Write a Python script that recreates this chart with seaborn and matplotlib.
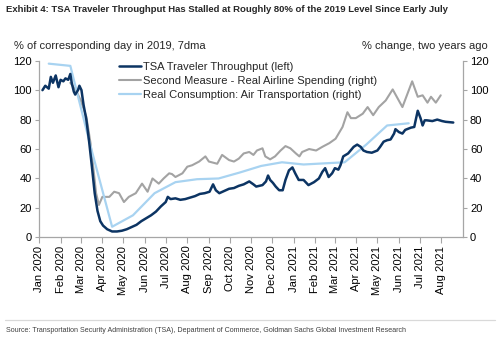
import matplotlib
matplotlib.use("Agg")
import matplotlib.pyplot as plt
import matplotlib.dates as mdates
import pandas as pd
import seaborn as sns

# TSA traveler throughput, % of corresponding day in 2019 (7-day moving average)
tsa_dates = [
    "2020-01-06", "2020-01-10", "2020-01-15", "2020-01-18", "2020-01-21", "2020-01-25",
    "2020-01-29", "2020-02-01", "2020-02-05", "2020-02-08", "2020-02-12", "2020-02-15",
    "2020-02-17", "2020-02-20", "2020-02-22", "2020-02-26", "2020-02-28", "2020-03-02",
    "2020-03-05", "2020-03-09", "2020-03-13", "2020-03-17", "2020-03-21", "2020-03-25",
    "2020-03-29", "2020-04-02", "2020-04-08", "2020-04-15", "2020-04-22", "2020-04-29",
    "2020-05-06", "2020-05-13", "2020-05-20", "2020-05-27", "2020-06-03", "2020-06-10",
    "2020-06-17", "2020-06-24", "2020-07-01", "2020-07-04", "2020-07-08", "2020-07-15",
    "2020-07-22", "2020-07-29", "2020-08-05", "2020-08-12", "2020-08-19", "2020-08-26",
    "2020-09-02", "2020-09-07", "2020-09-11", "2020-09-16", "2020-09-23", "2020-09-30",
    "2020-10-07", "2020-10-14", "2020-10-21", "2020-10-29", "2020-11-04", "2020-11-08",
    "2020-11-17", "2020-11-22", "2020-11-25", "2020-11-28", "2020-12-02", "2020-12-06",
    "2020-12-11", "2020-12-16", "2020-12-20", "2020-12-25", "2020-12-30", "2021-01-03",
    "2021-01-08", "2021-01-15", "2021-01-22", "2021-01-30", "2021-02-06", "2021-02-11",
    "2021-02-15", "2021-02-20", "2021-02-25", "2021-03-01", "2021-03-06", "2021-03-09",
    "2021-03-13", "2021-03-20", "2021-03-28", "2021-04-02", "2021-04-07", "2021-04-11",
    "2021-04-16", "2021-04-23", "2021-05-01", "2021-05-05", "2021-05-10", "2021-05-15",
    "2021-05-20", "2021-05-25", "2021-05-27", "2021-06-01", "2021-06-06", "2021-06-10",
    "2021-06-18", "2021-06-23", "2021-06-25", "2021-06-28", "2021-07-02", "2021-07-05",
    "2021-07-08", "2021-07-11", "2021-07-19", "2021-07-26", "2021-08-02", "2021-08-07",
    "2021-08-18",
]
tsa_values = [
    100, 103, 101, 109, 105, 110,
    102, 107, 106, 108, 107, 111,
    105, 99, 97, 100, 103, 100,
    90, 80, 65, 48, 30, 18,
    11, 8, 5.5, 4, 4, 4.5,
    5.5, 7, 8.5, 11, 13, 15,
    17.5, 21, 24, 27.5, 26, 26.5,
    25.5, 26, 27, 28, 29.5, 30,
    31, 36, 32, 30, 31.5, 33,
    33.5, 35, 36, 38, 36, 34.5,
    35.5, 38, 42, 39, 37, 34.5,
    32, 32, 39, 45.5, 47.5, 43.5,
    39, 39, 35.5, 37.5, 40, 44.5,
    47, 41, 43.5, 47, 46, 49,
    55, 57, 61.5, 63, 61.5, 59,
    58, 57.5, 59, 61.5, 65, 66,
    66.5, 70.5, 73.5, 71.5, 70.5, 73,
    74.5, 75, 79.5, 86, 81, 76,
    79.5, 79.5, 79, 80, 79, 78.5,
    78,
]

# Second Measure real airline spending, % change vs two years ago
sm_dates = [
    "2020-02-15", "2020-02-23", "2020-03-01", "2020-03-09", "2020-03-15", "2020-03-20",
    "2020-03-23", "2020-03-27", "2020-04-01", "2020-04-11", "2020-04-18", "2020-04-25",
    "2020-05-02", "2020-05-09", "2020-05-19", "2020-05-28", "2020-06-05", "2020-06-12",
    "2020-06-21", "2020-06-28", "2020-07-06", "2020-07-10", "2020-07-15", "2020-07-25",
    "2020-08-01", "2020-08-08", "2020-08-18", "2020-08-27", "2020-09-01", "2020-09-13",
    "2020-09-20", "2020-09-30", "2020-10-07", "2020-10-14", "2020-10-21", "2020-10-29",
    "2020-11-04", "2020-11-09", "2020-11-17", "2020-11-21", "2020-11-28", "2020-12-05",
    "2020-12-13", "2020-12-20", "2020-12-27", "2021-01-04", "2021-01-09", "2021-01-13",
    "2021-01-23", "2021-02-02", "2021-02-11", "2021-02-21", "2021-03-02", "2021-03-12",
    "2021-03-19", "2021-03-24", "2021-03-31", "2021-04-10", "2021-04-17", "2021-04-25",
    "2021-05-03", "2021-05-13", "2021-05-23", "2021-06-06", "2021-06-20", "2021-06-28",
    "2021-07-05", "2021-07-12", "2021-07-17", "2021-07-24", "2021-07-31",
]
sm_values = [
    105, 100, 93, 82, 64, 43,
    30, 22, 27.5, 27.5, 31, 30,
    24, 27.5, 30, 36.5, 31, 40,
    36.5, 40, 43.5, 43, 41, 43.5,
    48, 49, 51.5, 55, 51.5, 50,
    56, 52.5, 51.5, 53.5, 57, 58,
    56, 59, 60.5, 55, 53, 55,
    59, 62, 60.5, 57, 55, 58,
    60, 59, 61.5, 64, 67, 75,
    85, 81, 81, 84, 88.5, 83,
    88.5, 93, 100.5, 88.5, 106, 95.5,
    96.5, 91.5, 95.5, 91.5, 96.5,
]

# Real consumption: air transportation, % change vs two years ago (monthly)
pce_dates = [
    "2020-01-15", "2020-02-15", "2020-03-15", "2020-04-15", "2020-05-15", "2020-06-15",
    "2020-07-15", "2020-08-15", "2020-09-15", "2020-10-15", "2020-11-15", "2020-12-15",
    "2021-01-15", "2021-02-15", "2021-03-15", "2021-04-15", "2021-05-15", "2021-06-15",
]
pce_values = [
    118, 116.5, 62, 7.2, 15, 30,
    37.5, 39.5, 40, 44, 48.5, 51,
    49.5, 50.3, 51, 63, 76, 77.5,
]

y_ticks = [0, 20, 40, 60, 80, 100, 120]

title = ("Exhibit 4: TSA Traveler Throughput Has Stalled at Roughly 80% of the 2019 "
         "Level Since Early July")
left_label = "% of corresponding day in 2019, 7dma"
right_label = "% change, two years ago"
source = ("Source: Transportation Security Administration (TSA), Department of Commerce, "
          "Goldman Sachs Global Investment Research")
series_names = ["TSA Traveler Throughput (left)",
                "Second Measure - Real Airline Spending (right)",
                "Real Consumption: Air Transportation (right)"]

NAVY = "#0c3463"
GRAY = "#a3a3a3"
LIGHT = "#a8d3f1"
SPINE = "#a6a6a6"

sns.set_theme(style="white")
plt.rcParams["font.family"] = ["Liberation Sans", "DejaVu Sans"]

tsa = pd.DataFrame({"date": pd.to_datetime(tsa_dates), "value": tsa_values})
sm = pd.DataFrame({"date": pd.to_datetime(sm_dates), "value": sm_values})
pce = pd.DataFrame({"date": pd.to_datetime(pce_dates), "value": pce_values})

fig = plt.figure(figsize=(5.0, 3.43), dpi=100)
ax = fig.add_axes([0.078, 0.308, 0.848, 0.515])
ax2 = ax.twinx()

sns.lineplot(data=sm, x="date", y="value", ax=ax2, color=GRAY, lw=1.5, label=series_names[1])
sns.lineplot(data=pce, x="date", y="value", ax=ax2, color=LIGHT, lw=1.6, label=series_names[2])
sns.lineplot(data=tsa, x="date", y="value", ax=ax, color=NAVY, lw=1.8, label=series_names[0])
ax.set_zorder(ax2.get_zorder() + 1)
ax.patch.set_visible(False)

for a in (ax, ax2):
    a.set_ylim(0, 120)
    a.set_yticks(y_ticks)
    a.set_xlim(pd.Timestamp("2020-01-01"), pd.Timestamp("2021-09-01"))
    a.set_xlabel("")
    a.set_ylabel("")
    for s in a.spines.values():
        s.set_visible(False)
    a.tick_params(axis="both", labelsize=8, colors="black", length=3,
                  width=0.8, pad=2)
    a.tick_params(axis="both", color=SPINE)

ax.spines["left"].set_visible(True)
ax.spines["bottom"].set_visible(True)
ax2.spines["right"].set_visible(True)
for s in (ax.spines["left"], ax.spines["bottom"], ax2.spines["right"]):
    s.set_color(SPINE)
    s.set_linewidth(0.9)

ax.tick_params(axis="y", left=True, direction="out")
ax2.tick_params(axis="y", right=True, direction="out")
ax.tick_params(axis="x", bottom=True, direction="out", length=4)

month_ticks = pd.date_range("2020-01-01", "2021-08-01", freq="MS")
ax.set_xticks(month_ticks)
ax.xaxis.set_major_formatter(mdates.DateFormatter("%b %Y"))
for lab in ax.get_xticklabels():
    lab.set_rotation(90)
ax2.set_xticks(month_ticks)
ax2.tick_params(axis="x", bottom=False, labelbottom=False)

h1, l1 = ax.get_legend_handles_labels()
h2, l2 = ax2.get_legend_handles_labels()
ax2.get_legend().remove()
ax.get_legend().remove()
fig.legend(h1 + h2, l1 + l2, loc="upper left", bbox_to_anchor=(0.238, 0.82),
           frameon=False, fontsize=8, handlelength=2.0, handletextpad=0.15,
           labelspacing=0.38, borderaxespad=0, borderpad=0)

fig.text(0.012, 0.972, title, fontsize=6.8, fontweight="bold",
         ha="left", va="center")
fig.text(0.028, 0.866, left_label, fontsize=8, ha="left", va="center")
fig.text(0.976, 0.866, right_label, fontsize=8, ha="right", va="center")
fig.add_artist(plt.Line2D([0.01, 0.99], [0.067, 0.067], color="#d9d9d9", lw=0.9))
fig.text(0.012, 0.035, source, fontsize=5.1, color="#404040",
         ha="left", va="center")

fig.savefig("out.png", dpi=100)
